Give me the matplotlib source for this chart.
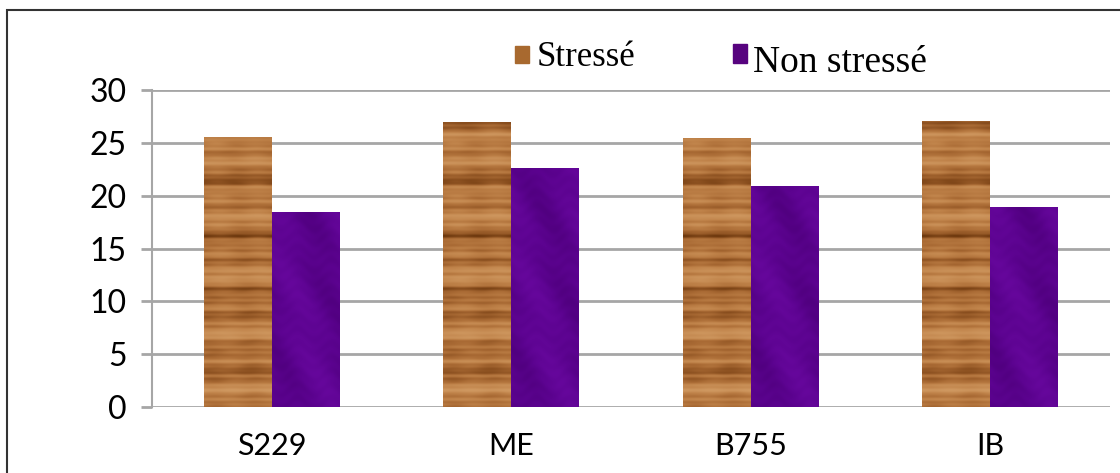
import numpy as np
import matplotlib.pyplot as plt
from matplotlib.colors import LinearSegmentedColormap
from matplotlib.patches import Rectangle

# Valeurs par génotype
genotypes = ['S229', 'ME', 'B755', 'IB']
stresse = [25.6, 27.0, 25.5, 27.1]
non_stresse = [18.5, 22.6, 20.9, 18.9]

plt.rcParams['font.family'] = ['Lato', 'DejaVu Sans']

fig = plt.figure(figsize=(11.2, 4.73), dpi=100)
ax = fig.add_axes([0.1357, 0.1395, 0.8553, 0.6702])

# textures bois / violet (motifs sinusoidaux)
yy, xx = np.mgrid[0:1:600j, 0:1:90j]
bois = np.zeros_like(yy)
for f, a, ph, b, c in [(11.3, 0.35, 0.1, 0.04, 0.9), (23.7, 0.25, 0.4, 0.03, 1.7),
                       (41.9, 0.18, 0.7, 0.02, 2.6), (67.1, 0.12, 0.2, 0.015, 3.3),
                       (5.2, 0.30, 0.55, 0.0, 0.0)]:
    bois += a * np.sin(2 * np.pi * (f * yy + ph + b * np.sin(2 * np.pi * (c * xx + ph))))
bois += 0.08 * np.sin(2 * np.pi * (1.7 * xx + 0.6 * yy))
bois = (bois - bois.min()) / (bois.max() - bois.min())
bois = bois ** 1.4
cmap_bois = LinearSegmentedColormap.from_list(
    'bois', ['#cf9860', '#bf8249', '#a96a34', '#8a4f1f', '#6a360c'])
violet = (0.6 * np.sin(2 * np.pi * (xx * 0.9 + yy * 1.3))
          + 0.3 * np.sin(2 * np.pi * (yy * 5.3 + xx * 1.4 + 0.3))
          + 0.15 * np.sin(2 * np.pi * (yy * 23 + 0.4 * np.sin(2 * np.pi * xx * 2))))
violet = (violet - violet.min()) / (violet.max() - violet.min())
cmap_violet = LinearSegmentedColormap.from_list('violet', ['#66079c', '#5c0390', '#510080'])

x = np.arange(len(genotypes))
w = 0.283
b1 = ax.bar(x - w / 2, stresse, w, color='#b87a42', zorder=2)
b2 = ax.bar(x + w / 2, non_stresse, w, color='#5c0490', zorder=2)

for bars, tex, cm in [(b1, bois, cmap_bois), (b2, violet, cmap_violet)]:
    for r in bars:
        x0 = r.get_x()
        im = ax.imshow(tex, extent=[x0, x0 + r.get_width(), 0, 30], origin='lower',
                       aspect='auto', cmap=cm, zorder=3, interpolation='bilinear')
        im.set_clip_path(r)

ax.set_xlim(-0.5, 3.5)
ax.set_ylim(0, 30)
ax.set_yticks(range(0, 31, 5))
ax.set_xticks(x)
ax.set_xticklabels(genotypes, fontsize=22)
ax.tick_params(axis='x', length=0, pad=18)
ax.tick_params(axis='y', length=8, width=2, color='#a6a6a6', labelsize=23, pad=10)
ax.yaxis.grid(True, color='#a6a6a6', lw=2)
ax.set_axisbelow(True)
for s in ['top', 'right', 'bottom']:
    ax.spines[s].set_visible(False)
ax.spines['left'].set_color('#a6a6a6')
ax.spines['left'].set_linewidth(1.5)

# cadre
fig.patches.append(Rectangle((7 / 1120, -0.1), 1.2, 1 - 10 / 473 + 0.1, transform=fig.transFigure,
                             fill=False, ec='#333333', lw=1.5))

# légende
fig.patches.append(Rectangle((515 / 1120, 1 - 63 / 473), 14 / 1120, 17 / 473,
                             transform=fig.transFigure, color='#a8692f'))
fig.patches.append(Rectangle((733 / 1120, 1 - 63 / 473), 14 / 1120, 19 / 473,
                             transform=fig.transFigure, color='#57037f'))
fig.text(537 / 1120, 1 - 57 / 473, 'Stressé', family='Liberation Serif', fontsize=25,
         va='center', ha='left')
fig.text(753 / 1120, 1 - 63 / 473, 'Non stressé', family='Liberation Serif', fontsize=27,
         va='center', ha='left')

fig.savefig('out.png', dpi=100)
